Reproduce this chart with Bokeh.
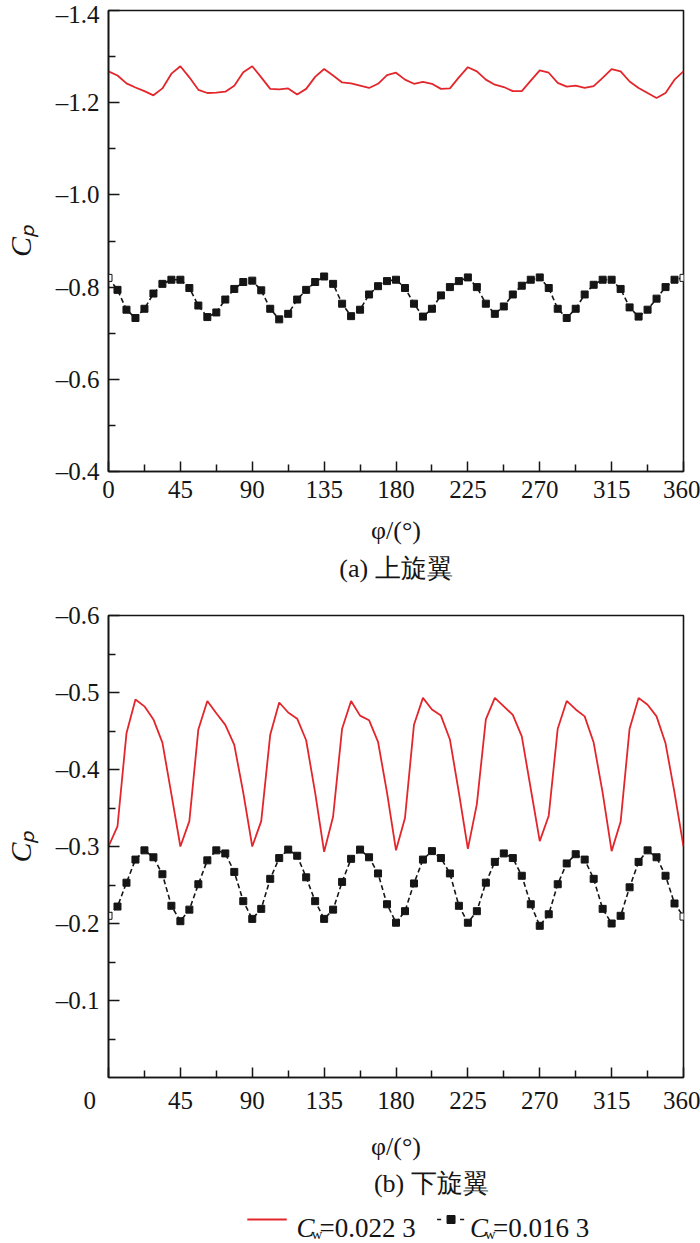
from bokeh.plotting import figure
from bokeh.models import Range1d, FixedTicker, Title, CustomJSTickFormatter
from bokeh.layouts import column
from bokeh.embed import file_html
from bokeh.resources import INLINE
from bokeh.core.properties import value

# ---------------- data ----------------
phi = [0, 5.625, 11.25, 16.875, 22.5, 28.125, 33.75, 39.375,
       45, 50.625, 56.25, 61.875, 67.5, 73.125, 78.75, 84.375,
       90, 95.625, 101.25, 106.875, 112.5, 118.125, 123.75, 129.375,
       135, 140.625, 146.25, 151.875, 157.5, 163.125, 168.75, 174.375,
       180, 185.625, 191.25, 196.875, 202.5, 208.125, 213.75, 219.375,
       225, 230.625, 236.25, 241.875, 247.5, 253.125, 258.75, 264.375,
       270, 275.625, 281.25, 286.875, 292.5, 298.125, 303.75, 309.375,
       315, 320.625, 326.25, 331.875, 337.5, 343.125, 348.75, 354.375,
       360]

upper_cw0223 = [-1.268, -1.259, -1.242, -1.233, -1.225, -1.216, -1.231, -1.263,
                -1.279, -1.255, -1.228, -1.221, -1.222, -1.224, -1.237, -1.266,
                -1.279, -1.255, -1.230, -1.229, -1.231, -1.218, -1.230, -1.256,
                -1.273, -1.259, -1.244, -1.242, -1.237, -1.232, -1.241, -1.260,
                -1.265, -1.250, -1.241, -1.245, -1.241, -1.230, -1.231, -1.255,
                -1.277, -1.268, -1.250, -1.239, -1.234, -1.225, -1.225, -1.248,
                -1.270, -1.265, -1.243, -1.235, -1.237, -1.232, -1.236, -1.254,
                -1.273, -1.268, -1.246, -1.232, -1.221, -1.210, -1.221, -1.250,
                -1.268]

upper_cw0163 = [-0.820, -0.794, -0.751, -0.733, -0.753, -0.786, -0.807, -0.816,
                -0.816, -0.798, -0.760, -0.735, -0.745, -0.773, -0.796, -0.811,
                -0.814, -0.793, -0.753, -0.730, -0.742, -0.773, -0.794, -0.811,
                -0.823, -0.807, -0.764, -0.737, -0.751, -0.784, -0.802, -0.813,
                -0.816, -0.798, -0.764, -0.736, -0.753, -0.782, -0.800, -0.813,
                -0.821, -0.800, -0.764, -0.742, -0.758, -0.784, -0.803, -0.816,
                -0.821, -0.798, -0.753, -0.733, -0.753, -0.784, -0.805, -0.816,
                -0.816, -0.796, -0.756, -0.736, -0.751, -0.775, -0.800, -0.816,
                -0.820]

lower_cw0223 = [-0.300, -0.326, -0.447, -0.491, -0.482, -0.465, -0.435, -0.368,
                -0.300, -0.333, -0.452, -0.489, -0.473, -0.458, -0.432, -0.370,
                -0.300, -0.333, -0.445, -0.487, -0.474, -0.466, -0.438, -0.370,
                -0.293, -0.339, -0.453, -0.489, -0.470, -0.464, -0.436, -0.370,
                -0.295, -0.337, -0.458, -0.493, -0.478, -0.470, -0.439, -0.370,
                -0.297, -0.355, -0.465, -0.493, -0.482, -0.471, -0.443, -0.375,
                -0.307, -0.340, -0.453, -0.489, -0.478, -0.469, -0.435, -0.370,
                -0.294, -0.332, -0.453, -0.493, -0.484, -0.469, -0.434, -0.370,
                -0.300]

lower_cw0163 = [-0.210, -0.222, -0.253, -0.283, -0.295, -0.286, -0.264, -0.223,
                -0.203, -0.218, -0.251, -0.282, -0.295, -0.291, -0.267, -0.229,
                -0.206, -0.219, -0.258, -0.285, -0.296, -0.288, -0.260, -0.229,
                -0.206, -0.218, -0.254, -0.284, -0.296, -0.286, -0.265, -0.225,
                -0.201, -0.216, -0.252, -0.283, -0.294, -0.285, -0.265, -0.223,
                -0.201, -0.216, -0.253, -0.280, -0.291, -0.285, -0.262, -0.225,
                -0.197, -0.212, -0.251, -0.278, -0.290, -0.283, -0.258, -0.219,
                -0.200, -0.210, -0.247, -0.280, -0.295, -0.286, -0.262, -0.226,
                -0.209]

x_ticks = [0, 45, 90, 135, 180, 225, 270, 315, 360]
x_minor = [22.5, 67.5, 112.5, 157.5, 202.5, 247.5, 292.5, 337.5]

upper_y_ticks = [-1.4, -1.2, -1.0, -0.8, -0.6, -0.4]
upper_y_minor = [-1.3, -1.1, -0.9, -0.7, -0.5]
lower_y_ticks = [-0.6, -0.5, -0.4, -0.3, -0.2, -0.1]
lower_y_minor = [-0.55, -0.45, -0.35, -0.25, -0.15, -0.05]

legend_labels = ["0.022 3", "0.016 3"]
captions = ["(a) 上旋翼", "(b) 下旋翼"]

# ---------------- style ----------------
SERIF = "Liberation Serif"
RED = "#e3262b"
BLK = "#151515"
W = 700

y_fmt = CustomJSTickFormatter(code="return '\u2013' + Math.abs(tick).toFixed(1);")


def make_panel(height, y_range, y_ticks, y_minor, mb_top, mb_bottom):
    p = figure(width=W, height=height, x_range=Range1d(0, 360), y_range=y_range,
               output_backend="svg", toolbar_location=None,
               min_border_left=103, min_border_right=17,
               min_border_top=mb_top, min_border_bottom=mb_bottom)
    p.background_fill_color = "white"
    p.border_fill_color = "white"
    p.xgrid.visible = False
    p.ygrid.visible = False
    p.outline_line_color = BLK
    p.outline_line_width = 1.6
    p.outline_line_alpha = 1.0

    xa = p.xaxis[0]
    xa.ticker = FixedTicker(ticks=x_ticks, minor_ticks=x_minor)
    xa.axis_line_color = BLK
    xa.axis_line_width = 1.6
    xa.major_tick_in = 10
    xa.major_tick_out = 0
    xa.minor_tick_in = 7
    xa.minor_tick_out = 0
    xa.major_tick_line_color = BLK
    xa.minor_tick_line_color = BLK
    xa.major_tick_line_width = 1.5
    xa.minor_tick_line_width = 1.5
    xa.major_label_text_font = SERIF
    xa.major_label_text_font_size = "25px"
    xa.major_label_text_color = BLK
    xa.major_label_standoff = 9
    xa.axis_label = "φ/(°)"
    xa.axis_label_text_font = SERIF
    xa.axis_label_text_font_size = "26px"
    xa.axis_label_text_font_style = "normal"
    xa.axis_label_text_color = BLK
    xa.axis_label_standoff = 15

    ya = p.yaxis[0]
    ya.ticker = FixedTicker(ticks=y_ticks, minor_ticks=y_minor)
    ya.formatter = y_fmt
    ya.axis_line_color = BLK
    ya.axis_line_width = 1.6
    ya.major_tick_in = 11
    ya.major_tick_out = 0
    ya.minor_tick_in = 7
    ya.minor_tick_out = 0
    ya.major_tick_line_color = BLK
    ya.minor_tick_line_color = BLK
    ya.major_tick_line_width = 1.5
    ya.minor_tick_line_width = 1.5
    ya.major_label_text_font = SERIF
    ya.major_label_text_font_size = "25px"
    ya.major_label_text_color = BLK
    ya.major_label_standoff = 9
    ya.axis_label = "Cₚ"
    ya.axis_label_text_font = SERIF
    ya.axis_label_text_font_size = "30px"
    ya.axis_label_text_font_style = "italic"
    ya.axis_label_text_color = BLK
    ya.axis_label_standoff = 16
    return p


def add_series(p, red_vals, blk_vals):
    p.line(phi, red_vals, line_color=RED, line_width=1.8)
    p.line(phi, blk_vals, line_color=BLK, line_width=1.6, line_dash="5 3")
    fills = ["white"] + [BLK] * (len(blk_vals) - 2) + ["white"]
    p.scatter(phi, blk_vals, marker="square", size=7, fill_color=fills,
              line_color=BLK, line_width=1.0)


# top panel (upper rotor)
p1 = make_panel(595, Range1d(-0.4, -1.4), upper_y_ticks, upper_y_minor, 10, 124)
add_series(p1, upper_cw0223, upper_cw0163)
cap_a = Title(text=captions[0], align="center", text_font=SERIF,
              text_font_size="26px", text_font_style="normal",
              text_color=BLK, standoff=8)
p1.add_layout(cap_a, "below")

# bottom panel (lower rotor)
p2 = make_panel(568, Range1d(0, -0.6), lower_y_ticks, lower_y_minor, 20, 86)
add_series(p2, lower_cw0223, lower_cw0163)
# the "0" of this panel sits left of the corner in the reference
p2.xaxis[0].major_label_overrides = {0: "0\u2002\u2002\u2002"}

# caption (b) + legend
H3 = 80
p3 = figure(width=W, height=H3, x_range=Range1d(0, W), y_range=Range1d(H3, 0),
            output_backend="svg", toolbar_location=None, min_border=0)
p3.axis.visible = False
p3.xgrid.visible = False
p3.ygrid.visible = False
p3.outline_line_color = None
p3.background_fill_color = "white"
p3.border_fill_color = "white"

p3.text(x=[393], y=[20], text=[captions[1]], text_align="center",
        text_baseline="middle", text_font=value(SERIF), text_font_size="26px",
        text_color=BLK)

LY = 64
# entry 1 symbol
p3.line([169, 217], [LY - 8, LY - 8], line_color=RED, line_width=1.8)
# entry 2 symbol
p3.segment(x0=[400, 428], y0=[LY - 8, LY - 8], x1=[405, 433], y1=[LY - 8, LY - 8],
           line_color=BLK, line_width=1.6)
p3.scatter([417], [LY - 8], marker="square", size=8, fill_color=BLK, line_color=BLK)

for x0, lab in zip([229, 440], legend_labels):
    p3.text(x=[x0], y=[LY], text=["C"], text_align="left", text_baseline="alphabetic",
            text_font=value(SERIF), text_font_size="27px", text_font_style="italic",
            text_color=BLK)
    p3.text(x=[x0 + 18], y=[LY + 6], text=["w"], text_align="left",
            text_baseline="alphabetic", text_font=value(SERIF), text_font_size="15px",
            text_color=BLK)
    p3.text(x=[x0 + 28], y=[LY], text=["=" + lab], text_align="left",
            text_baseline="alphabetic", text_font=value(SERIF), text_font_size="27px",
            text_color=BLK)

layout = column(p1, p2, p3, spacing=0)
open("out.html", "w").write(file_html(layout, INLINE))
